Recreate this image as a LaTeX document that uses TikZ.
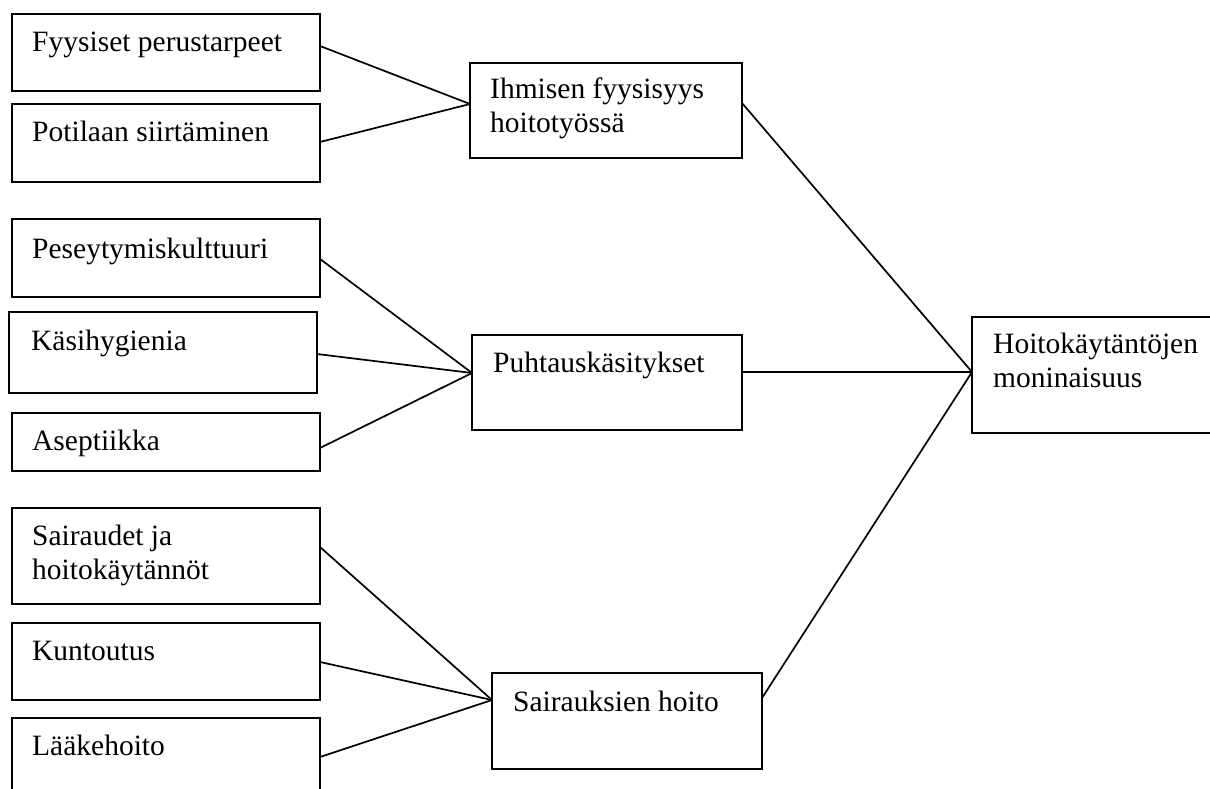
\documentclass[tikz,border=0pt]{standalone}
\usepackage{fontspec}
\setmainfont{Liberation Serif}
\usetikzlibrary{positioning}
\newcommand{\twol}[2]{\vtop{\hbox{#1}\hbox{#2}}}
\begin{document}
\begin{tikzpicture}[x=1pt,y=-1pt,
  boxnode/.style={draw=black,line width=1.8pt,rectangle,anchor=north west,inner sep=0pt,outer sep=0pt},
  lbl/.style={anchor=base west,inner sep=0pt,font=\fontsize{29.5}{34}\selectfont},
  conn/.style={draw=black,line width=1.7pt}]
\useasboundingbox (0,0) rectangle (1210,789);
\clip (0,0) rectangle (1210,789);
\fill[white] (0,0) rectangle (1210,789);
% left boxes
\node[boxnode,minimum width=308pt,minimum height=77pt] (f1) at (12,14) {};
\node[boxnode,minimum width=308pt,minimum height=78pt] (f2) at (12,104) {};
\node[boxnode,minimum width=308pt,minimum height=78pt] (p1) at (12,219) {};
\node[boxnode,minimum width=308pt,minimum height=81pt] (p2) at (9,312) {};
\node[boxnode,minimum width=308pt,minimum height=58pt] (p3) at (12,413) {};
\node[boxnode,minimum width=308pt,minimum height=96pt] (s1) at (12,508) {};
\node[boxnode,minimum width=308pt,minimum height=77pt] (s2) at (12,623) {};
\node[boxnode,minimum width=308pt,minimum height=110pt] (s3) at (12,718) {};
% middle boxes
\node[boxnode,minimum width=272pt,minimum height=95pt] (m1) at (470,63) {};
\node[boxnode,minimum width=270pt,minimum height=95pt] (m2) at (472,335) {};
\node[boxnode,minimum width=270pt,minimum height=96pt] (m3) at (492,673) {};
% right box
\node[boxnode,minimum width=300pt,minimum height=116pt] (h) at (972,317) {};
% labels
\node[lbl] (tf1) at ([xshift=20pt,yshift=-38pt]f1.north west) {Fyysiset perustarpeet};
\node[lbl] (tf2) at ([xshift=20pt,yshift=-38pt]f2.north west) {Potilaan siirtäminen};
\node[lbl] (tp1) at ([xshift=20pt,yshift=-39pt]p1.north west) {Peseytymiskulttuuri};
\node[lbl] (tp2) at ([xshift=22pt,yshift=-38pt]p2.north west) {Käsihygienia};
\node[lbl] (tp3) at ([xshift=20pt,yshift=-37pt]p3.north west) {Aseptiikka};
\node[lbl] (ts1) at ([xshift=20pt,yshift=-37pt]s1.north west) {\twol{Sairaudet ja}{hoitokäytännöt}};
\node[lbl] (ts2) at ([xshift=20pt,yshift=-37pt]s2.north west) {Kuntoutus};
\node[lbl] (ts3) at ([xshift=20pt,yshift=-37pt]s3.north west) {Lääkehoito};
\node[lbl] (tm1) at ([xshift=20pt,yshift=-36pt]m1.north west) {\twol{Ihmisen fyysisyys}{hoitotyössä}};
\node[lbl] (tm2) at ([xshift=21pt,yshift=-37pt]m2.north west) {Puhtauskäsitykset};
\node[lbl] (tm3) at ([xshift=21pt,yshift=-38pt]m3.north west) {Sairauksien hoito};
\node[lbl] (th) at ([xshift=21pt,yshift=-36pt]h.north west) {\twol{Hoitokäytäntöjen}{moninaisuus}};
% connectors
\draw[conn] ([yshift=-32pt]f1.north east) -- ([yshift=-41pt]m1.north west);
\draw[conn] ([yshift=-38pt]f2.north east) -- ([yshift=-41pt]m1.north west);
\draw[conn] ([yshift=-40pt]p1.north east) -- ([yshift=-38pt]m2.north west);
\draw[conn] ([yshift=-42pt]p2.north east) -- ([yshift=-38pt]m2.north west);
\draw[conn] ([yshift=-35pt]p3.north east) -- ([yshift=-38pt]m2.north west);
\draw[conn] ([yshift=-39pt]s1.north east) -- ([yshift=-27pt]m3.north west);
\draw[conn] ([yshift=-39pt]s2.north east) -- ([yshift=-27pt]m3.north west);
\draw[conn] ([yshift=-39pt]s3.north east) -- ([yshift=-27pt]m3.north west);
\draw[conn] ([yshift=-40pt]m1.north east) -- ([yshift=-55pt]h.north west);
\draw[conn] ([yshift=-37pt]m2.north east) -- ([yshift=-55pt]h.north west);
\draw[conn] ([yshift=-25pt]m3.north east) -- ([yshift=-55pt]h.north west);
\end{tikzpicture}
\end{document}
